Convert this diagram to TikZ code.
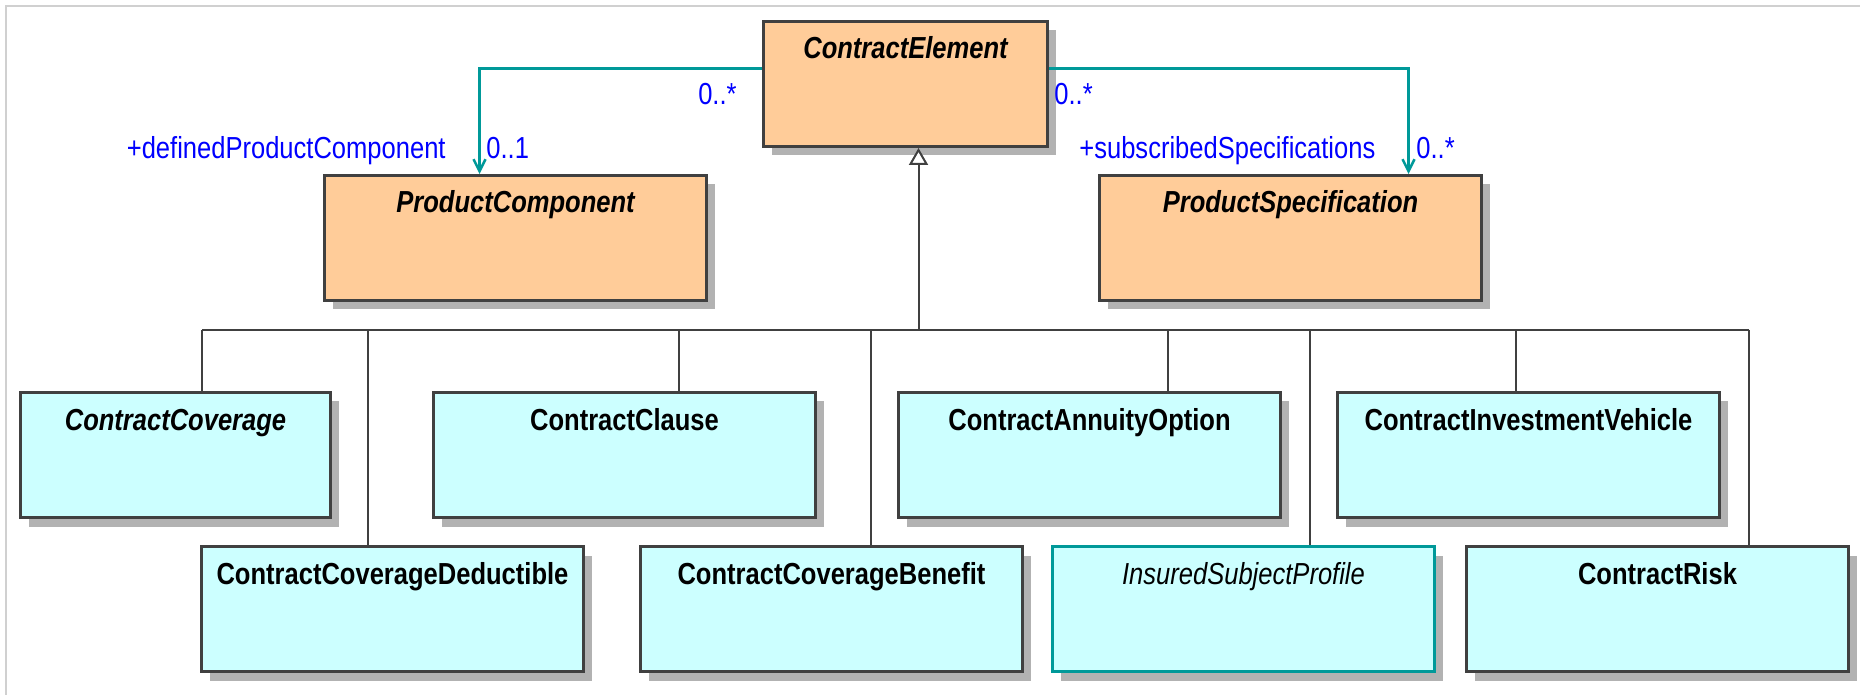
\documentclass[tikz,border=0pt]{standalone}
\usepackage{fontspec}
\setmainfont[FakeStretch=0.84]{Liberation Sans}
\usetikzlibrary{arrows.meta,shadows}

\definecolor{peach}{HTML}{FFCC99}
\definecolor{paleCyan}{HTML}{CCFFFF}
\definecolor{edgeGray}{HTML}{404040}
\definecolor{shade}{HTML}{B2B2B2}
\definecolor{assocTeal}{HTML}{009999}
\definecolor{multBlue}{HTML}{0000FF}
\definecolor{frameGray}{HTML}{D0D0D0}

\newcommand\umlfont{\fontsize{15.2pt}{18pt}\selectfont}

\tikzset{
  cls/.style={draw=edgeGray, line width=1.5pt, fill=paleCyan, anchor=north west,
    inner ysep=0pt, text height=18.75pt, text depth=43.75pt, minimum width=191pt,
    font=\umlfont\bfseries,
    drop shadow={shadow xshift=4pt, shadow yshift=-4.5pt, opacity=1, fill=shade}},
  abstr/.style={fill=peach},
  gen/.style={draw=edgeGray, line width=1pt},
  assoc/.style={draw=assocTeal, line width=1.25pt, -{Straight Barb[length=6pt,width=6pt]}},
  mult/.style={text=multBlue, font=\umlfont, inner sep=0pt}
}

\begin{document}
\begin{tikzpicture}[x=0.5pt, y=-0.5pt]
  \useasboundingbox (0,0) rectangle (1860,695);
  \draw[frameGray, line width=0.6pt] (6,695) -- (6,6) -- (1860,6);

  % top classes
  \node[cls, abstr, minimum width=142pt] (ce) at (762,20) {\itshape ContractElement};
  \node[cls, abstr] (pc) at (323,174) {\itshape ProductComponent};
  \node[cls, abstr] (ps) at (1098,174) {\itshape ProductSpecification};

  % sub classes
  \node[cls, minimum width=155pt] (cc) at (19,391) {\itshape ContractCoverage};
  \node[cls] (ccl) at (432,391) {ContractClause};
  \node[cls] (cao) at (897,391) {ContractAnnuityOption};
  \node[cls] (civ) at (1336,391) {ContractInvestmentVehicle};
  \node[cls] (ccd) at (200,545) {ContractCoverageDeductible};
  \node[cls] (ccb) at (639,545) {ContractCoverageBenefit};
  \node[cls, draw=assocTeal, font=\umlfont\mdseries] (isp) at (1051,545) {\itshape InsuredSubjectProfile};
  \node[cls] (cr) at (1465,545) {ContractRisk};

  % generalisation
  \coordinate (busL) at (202,330);
  \coordinate (busR) at (1749,330);
  \draw[gen] (busL) -- (busR);
  \draw[gen, {Triangle[length=8.5pt,width=9.5pt,fill=white]}-] ([xshift=6.5pt]ce.south) -- ([xshift=6.5pt]ce.south |- busL);
  \foreach \xx/\cl in {202/cc, 368/ccd, 679/ccl, 871/ccb, 1168/cao, 1310/isp, 1516/civ, 1749/cr}
    \draw[gen] (\xx,330) -- (\xx,330 |- \cl.north);

  % associations
  \draw[assoc] ([yshift=7.75pt]ce.west) -| ([xshift=-18pt]pc.north);
  \draw[assoc] ([yshift=7.75pt]ce.east) -| ([xshift=59pt]ps.north);

  \node[mult, anchor=base east] (m1) at (737,105) {0..*};
  \node[mult, anchor=base west] (m2) at (1054,105) {0..*};
  \node[mult, anchor=base east] (r1) at (446,159) {+definedProductComponent};
  \node[mult, anchor=base west] (m3) at (486,159) {0..1};
  \node[mult, anchor=base west] (r2) at (1079,159) {+subscribedSpecifications};
  \node[mult, anchor=base west] (m4) at (1416,159) {0..*};
\end{tikzpicture}
\end{document}
